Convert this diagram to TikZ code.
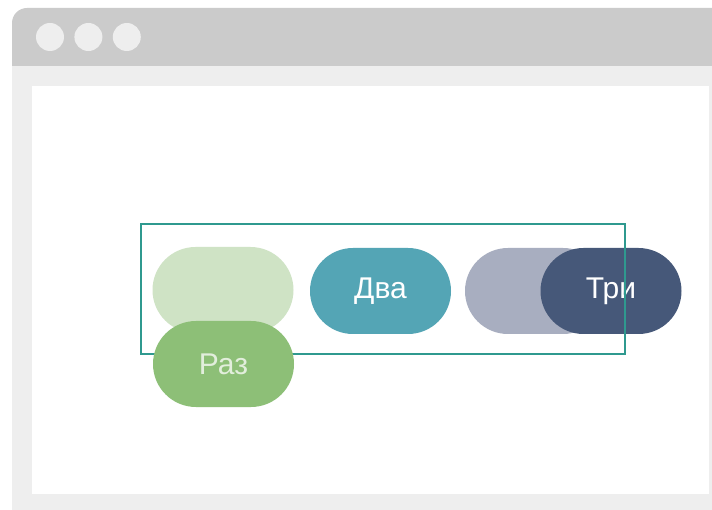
\documentclass[tikz,border=0pt]{standalone}
\usepackage{fontspec}
\setmainfont{Liberation Sans}
\usetikzlibrary{positioning}
\definecolor{barGray}{HTML}{CBCBCB}
\definecolor{frameGray}{HTML}{EEEEEE}
\definecolor{boxTeal}{HTML}{2F998F}
\definecolor{razPale}{HTML}{CFE3C5}
\definecolor{razGreen}{HTML}{8DBF77}
\definecolor{dvaTeal}{HTML}{54A5B5}
\definecolor{triPale}{HTML}{A8AEC0}
\definecolor{triNavy}{HTML}{465879}
\begin{document}
\begin{tikzpicture}[x=1pt,y=-1pt,font=\fontsize{30}{36}\selectfont]
% Two pill styles: filled and ghost
\tikzstyle{pill}=[rectangle,rounded corners=43pt,minimum width=141pt,minimum height=86pt,inner sep=0pt,text=white]
\tikzstyle{dot}=[circle,fill=frameGray,minimum size=28pt,inner sep=0pt]
\useasboundingbox (0,0) rectangle (712,510);
% The window
\begin{scope}
\clip (0,0) rectangle (712,510);
\fill[barGray,rounded corners=15pt] (12,8) rectangle (760,560);
\fill[frameGray] (12,66) rectangle (760,560);
\end{scope}
\fill[white] (32,86) rectangle (709,494);
\node[dot](d1) at (50,37){};
\node[dot,right=10pt of d1](d2){};
\node[dot,right=10pt of d2](d3){};
% The pills
\node[pill,fill=razPale](razghost) at (223,290){};
\node[pill,fill=dvaTeal](dva) at (380.5,291){Два};
\node[pill,fill=triPale](trighost) at (535.5,291){};
\node[pill,fill=triNavy](tri) at (611,291){Три};
\node[draw=boxTeal,line width=2pt,minimum width=484pt,minimum height=130pt](box) at (383,289){};
\node[pill,fill=razGreen,text=razPale!60!white](raz) at (223.5,364){Раз};
\end{tikzpicture}
\end{document}
